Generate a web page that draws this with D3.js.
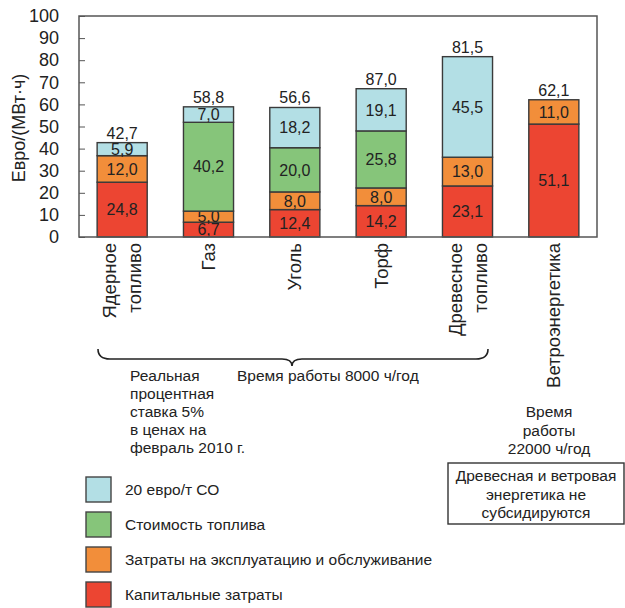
<!DOCTYPE html>
<html>
<head>
<meta charset="utf-8">
<script src="https://cdn.jsdelivr.net/npm/d3@7"></script>
<style>
  body { margin: 0; background: #fff; }
  svg text { font-family: "Liberation Sans", Arial, sans-serif; fill: #222; }
</style>
</head>
<body>
<script>
// data
let categories = ["Ядерное топливо", "Газ", "Уголь", "Торф", "Древесное топливо", "Ветроэнергетика"]
let catLines = [["Ядерное", "топливо"], ["Газ"], ["Уголь"], ["Торф"], ["Древесное", "топливо"], ["Ветроэнергетика"]]
let capital = [24.8, 6.7, 12.4, 14.2, 23.1, 51.1]
let operation = [12.0, 5.0, 8.0, 8.0, 13.0, 11.0]
let fuel = [0, 40.2, 20.0, 25.8, 0, 0]
let co2 = [5.9, 7.0, 18.2, 19.1, 45.5, 0]
let totals = ["42,7", "58,8", "56,6", "87,0", "81,5", "62,1"]
let yTicks = [0, 10, 20, 30, 40, 50, 60, 70, 80, 90, 100]

let seriesNames = ["Капитальные затраты", "Затраты на эксплуатацию и обслуживание", "Стоимость топлива", "20 евро/т СО"]
let seriesKeys = ["capital", "operation", "fuel", "co2"]
let colors = ["#ec4532", "#f28e3a", "#86c57a", "#b3dfe5"]

let width = 625
let height = 608

let svg = d3.select("body")
            .append("svg")
            .attr("width", width)
            .attr("height", height)

let table = categories.map((c, i) => ({
    cat: c, capital: capital[i], operation: operation[i], fuel: fuel[i], co2: co2[i]
}))
let stacked = d3.stack().keys(seriesKeys)(table)

let xScale = d3.scaleBand()
                .domain(categories)
                .range([79, 597])
                .paddingInner(0.42)
                .paddingOuter(0.21)

let yScale = d3.scaleLinear()
                .domain([0, 100])
                .range([237, 16])

let fmt = v => d3.format(".1f")(v).replace(".", ",")

// segments
stacked.forEach((s, si) => {
    let g = svg.append("g")
    s.forEach((d, i) => {
        let v = d[1] - d[0]
        if (v <= 0) return
        g.append("rect")
            .attr("x", xScale(categories[i]))
            .attr("y", yScale(d[1]))
            .attr("width", xScale.bandwidth())
            .attr("height", yScale(d[0]) - yScale(d[1]))
            .attr("fill", colors[si])
            .attr("stroke", "#3a3a3a")
            .attr("stroke-width", 1.4)
        g.append("text")
            .attr("x", xScale(categories[i]) + xScale.bandwidth() / 2)
            .attr("y", (yScale(d[0]) + yScale(d[1])) / 2)
            .attr("dy", "0.36em")
            .attr("text-anchor", "middle")
            .style("font-size", "16px")
            .text(fmt(v))
    })
})

// totals above bars
let lastLayer = stacked[stacked.length - 1]
lastLayer.forEach((d, i) => {
    svg.append("text")
        .attr("x", xScale(categories[i]) + xScale.bandwidth() / 2)
        .attr("y", yScale(d[1]) - 4)
        .attr("text-anchor", "middle")
        .style("font-size", "16px")
        .text(totals[i])
})

// frame
svg.append("rect")
    .attr("x", 79).attr("y", 16)
    .attr("width", 518).attr("height", 221)
    .attr("fill", "none")
    .attr("stroke", "#555")
    .attr("stroke-width", 1.5)

let yAxis = d3.axisLeft(yScale)
                .tickValues(yTicks)
                .tickSize(-6)
                .tickPadding(20)
svg.append("g")
    .attr("transform", "translate(79,0)")
    .call(yAxis)
    .call(g => g.select(".domain").remove())
    .call(g => g.selectAll("line").attr("stroke", "#555"))
    .call(g => g.selectAll("text").style("font-size", "18px").attr("fill", "#222")
                .style("font-family", "'Liberation Sans', Arial, sans-serif"))

svg.append("text")
    .attr("transform", "translate(25,128) rotate(-90)")
    .attr("text-anchor", "middle")
    .style("font-size", "18px")
    .text("Евро/(МВт·ч)")

// rotated category labels
catLines.forEach((lines, i) => {
    let c = xScale(categories[i]) + xScale.bandwidth() / 2
    lines.forEach((t, j) => {
        let bx = c + 6.5 + (j - (lines.length - 1) / 2) * 25
        svg.append("text")
            .attr("transform", "translate(" + bx + ",243) rotate(-90)")
            .attr("text-anchor", "end")
            .style("font-size", "18.5px")
            .text(t)
    })
})

// brace under first five bars
let bL = 98, bR = 488, bM = 292, bY = 359
svg.append("path")
    .attr("d", "M" + bL + ",349 Q" + bL + "," + bY + " " + (bL + 12) + "," + bY +
               " L" + (bM - 10) + "," + bY + " Q" + bM + "," + bY + " " + bM + ",366" +
               " Q" + bM + "," + bY + " " + (bM + 10) + "," + bY +
               " L" + (bR - 12) + "," + bY + " Q" + bR + "," + bY + " " + bR + ",349")
    .attr("fill", "none")
    .attr("stroke", "#222")
    .attr("stroke-width", 1.6)

let noteLeft = ["Реальная", "процентная", "ставка 5%", "в ценах на", "февраль 2010 г."]
noteLeft.forEach((t, i) => {
    svg.append("text").attr("x", 130).attr("y", 381 + i * 18)
        .style("font-size", "15.5px").text(t)
})
svg.append("text").attr("x", 237).attr("y", 381)
    .style("font-size", "15.5px").text("Время работы 8000 ч/год")

let noteWind = ["Время", "работы", "22000 ч/год"]
noteWind.forEach((t, i) => {
    svg.append("text").attr("x", 549).attr("y", 417 + i * 18.5)
        .attr("text-anchor", "middle")
        .style("font-size", "15.5px").text(t)
})

// boxed note
svg.append("rect")
    .attr("x", 448).attr("y", 463)
    .attr("width", 176).attr("height", 61)
    .attr("fill", "none")
    .attr("stroke", "#333")
    .attr("stroke-width", 1.4)
let boxNote = ["Древесная и ветровая", "энергетика не", "субсидируются"]
boxNote.forEach((t, i) => {
    svg.append("text").attr("x", 536).attr("y", 481 + i * 18.5)
        .attr("text-anchor", "middle")
        .style("font-size", "15.5px").text(t)
})

// legend (top to bottom: CO2, fuel, operation, capital)
let legendOrder = [3, 2, 1, 0]
legendOrder.forEach((si, k) => {
    let y = 477 + k * 35
    svg.append("rect")
        .attr("x", 86).attr("y", y)
        .attr("width", 25).attr("height", 25)
        .attr("fill", colors[si])
        .attr("stroke", "#444")
        .attr("stroke-width", 1.4)
    svg.append("text")
        .attr("x", 125).attr("y", y + 18)
        .style("font-size", "15.5px")
        .text(seriesNames[si])
})
</script>
</body>
</html>
